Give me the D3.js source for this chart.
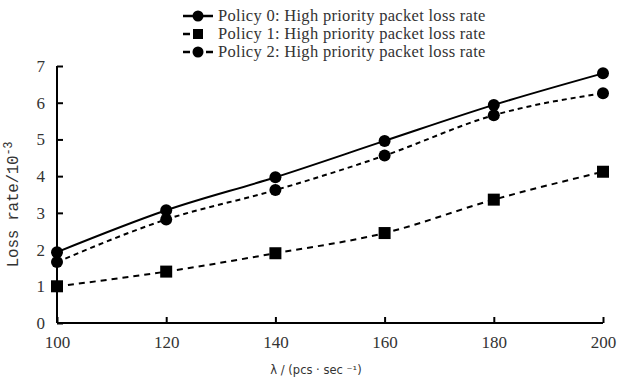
<!DOCTYPE html>
<html>
<head>
<meta charset="utf-8">
<script src="https://cdn.jsdelivr.net/npm/d3@7"></script>
<style>
  body { margin: 0; background: #fff; }
  text { font-family: "Liberation Serif", "DejaVu Serif", serif; fill: #333; }
</style>
</head>
<body>
<div id="chart"></div>
<script>
// data
const lambdas = [100, 120, 140, 160, 180, 200];
const policy0 = [1.93, 3.07, 3.97, 4.96, 5.94, 6.8];
const policy1 = [1.0, 1.4, 1.9, 2.45, 3.36, 4.12];
const policy2 = [1.66, 2.82, 3.62, 4.56, 5.66, 6.26];
const yTicks = [0, 1, 2, 3, 4, 5, 6, 7];
const seriesNames = [
  'Policy 0: High priority packet loss rate',
  'Policy 1: High priority packet loss rate',
  'Policy 2: High priority packet loss rate'
];

const W = 619, H = 385;
const margin = {top: 66, right: 16, bottom: 62, left: 57};
const width = W - margin.left - margin.right;
const height = H - margin.top - margin.bottom;

const svg = d3.select('#chart').append('svg')
  .attr('width', W).attr('height', H);
const g = svg.append('g')
  .attr('transform', `translate(${margin.left},${margin.top})`);

const x = d3.scaleLinear().domain([100, 200]).range([0, width]);
const y = d3.scaleLinear().domain([0, 7]).range([height, 0]);

// axes
const xAxis = g.append('g')
  .attr('transform', `translate(0,${height})`)
  .call(d3.axisBottom(x).tickValues(lambdas).tickSize(-6).tickPadding(13));
const yAxis = g.append('g')
  .call(d3.axisLeft(y).tickValues(yTicks).tickSize(-6).tickPadding(12).tickFormat(d3.format('d')));
[xAxis, yAxis].forEach(a => {
  a.select('.domain').attr('stroke', '#000').attr('stroke-width', 2);
  a.selectAll('.tick line').attr('stroke', '#000').attr('stroke-width', 2);
  a.selectAll('.tick text').style('font-size', '17px').attr('fill', '#333');
});
xAxis.select('.domain').attr('d', `M0,0H${width}`);
yAxis.select('.domain').attr('d', `M0,0V${height}`);

g.append('text')
  .attr('x', 316 - margin.left)
  .attr('y', height + 51)
  .style('text-anchor', 'middle')
  .style('font-size', '11.5px')
  .style('font-family', '"DejaVu Sans", sans-serif')
  .text('λ / (pcs · sec ⁻¹)');

g.append('text')
  .attr('transform', `translate(${-39},${height / 2 + 10})rotate(-90)`)
  .style('text-anchor', 'middle')
  .style('font-size', '16px')
  .style('font-family', '"Liberation Mono", "DejaVu Sans Mono", monospace')
  .style('letter-spacing', '-0.3px')
  .html('Loss rate/10<tspan dy="-6" font-size="12">-3</tspan>');

const series = [
  {values: policy0, dash: null, shape: 'circle'},
  {values: policy1, dash: '6,5', shape: 'square'},
  {values: policy2, dash: '5,4', shape: 'circle'}
];

const line = d3.line()
  .x((d, i) => x(lambdas[i]))
  .y(d => y(d))
  .curve(d3.curveMonotoneX);

function drawMarker(sel, shape, cx, cy, r) {
  if (shape === 'circle') {
    sel.append('circle').attr('cx', cx).attr('cy', cy).attr('r', r).attr('fill', '#000');
  } else {
    sel.append('rect').attr('x', cx - r).attr('y', cy - r)
      .attr('width', 2 * r).attr('height', 2 * r).attr('fill', '#000');
  }
}

series.forEach(s => {
  g.append('path')
    .datum(s.values)
    .attr('d', line)
    .attr('fill', 'none')
    .attr('stroke', '#000')
    .attr('stroke-width', 2)
    .attr('stroke-dasharray', s.dash);
  const mg = g.append('g');
  s.values.forEach((v, i) => drawMarker(mg, s.shape, x(lambdas[i]), y(v), 6));
});

// legend
const legend = svg.append('g').attr('transform', 'translate(183,16)');
series.forEach((s, i) => {
  const row = legend.append('g').attr('transform', `translate(0,${i * 18})`);
  if (s.shape === 'square') {
    row.append('line').attr('x1', 0).attr('x2', 7).attr('y1', 0).attr('y2', 0)
      .attr('stroke', '#000').attr('stroke-width', 2.5);
    drawMarker(row, s.shape, 15, 0, 5);
  } else {
    row.append('line')
      .attr('x1', 0).attr('x2', 30).attr('y1', 0).attr('y2', 0)
      .attr('stroke', '#000').attr('stroke-width', 2.5)
      .attr('stroke-dasharray', s.dash ? '7,16' : null);
    drawMarker(row, s.shape, 15, 0, 5.5);
  }
  row.append('text')
    .attr('x', 35).attr('y', 5)
    .style('font-size', '16.5px')
    .style('letter-spacing', '0.3px')
    .text(seriesNames[i]);
});
</script>
</body>
</html>
